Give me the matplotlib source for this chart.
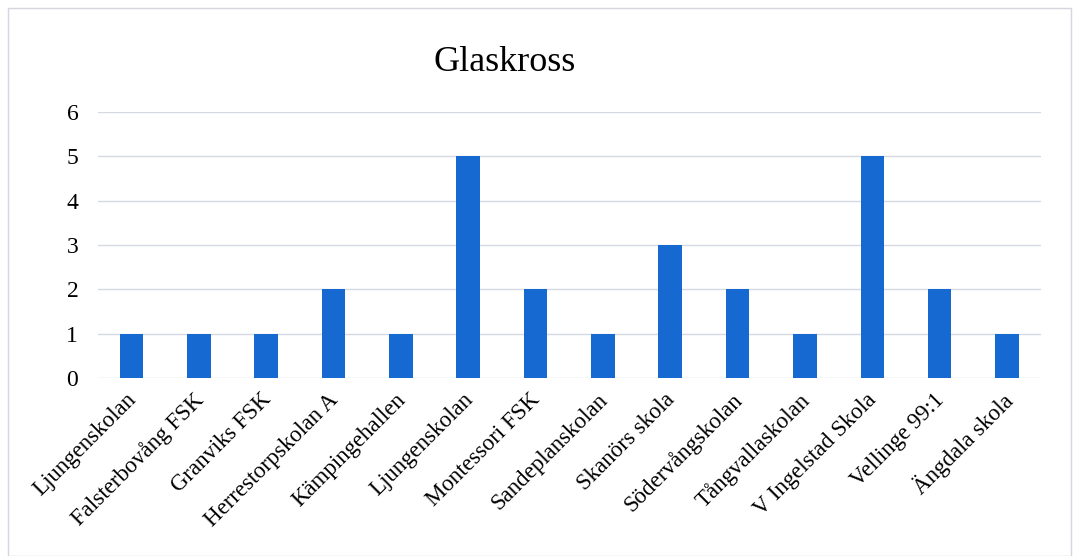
import matplotlib
matplotlib.use("Agg")
import matplotlib.pyplot as plt
import matplotlib.transforms as mtransforms
from matplotlib.patches import Rectangle

schools = ["Ljungenskolan", "Falsterbovång FSK", "Granviks FSK", "Herrestorpskolan A",
           "Kämpingehallen", "Ljungenskolan", "Montessori FSK", "Sandeplanskolan",
           "Skanörs skola", "Södervångskolan", "Tångvallaskolan", "V Ingelstad Skola",
           "Vellinge 99:1", "Ängdala skola"]
counts = [1, 1, 1, 2, 1, 5, 2, 1, 3, 2, 1, 5, 2, 1]
yticks = [0, 1, 2, 3, 4, 5, 6]

plt.rcParams['font.family'] = ['Liberation Serif', 'DejaVu Serif']

fig = plt.figure(figsize=(10.74, 5.56), dpi=100)
ax = fig.add_axes([0.091, 0.320, 0.878, 0.479])

x = range(len(schools))
ax.bar(x, counts, width=0.35, color='#1769d2', zorder=3)

ax.set_ylim(0, 6)
ax.set_xlim(-0.5, len(schools) - 0.5)
ax.set_yticks(yticks)
ax.set_yticklabels([str(v) for v in yticks], fontsize=17)
ax.set_xticks(list(x))
ax.set_xticklabels(schools, rotation=45, ha='right', rotation_mode='anchor', fontsize=16.5)
ax.tick_params(axis='y', length=0, pad=14)
ax.tick_params(axis='x', length=0, pad=8)
ax.grid(axis='y', color='#d6d8e4', linewidth=1, zorder=0)
for s in ax.spines.values():
    s.set_visible(False)

# nudge the slanted labels a little to the left, like the original
shift = mtransforms.ScaledTranslation(-6 / 100, 0, fig.dpi_scale_trans)
for lab in ax.get_xticklabels():
    lab.set_transform(lab.get_transform() + shift)

fig.text(0.47, 0.888, "Glaskross", ha='center', va='center', fontsize=26)

# chart area border
fig.add_artist(Rectangle((0.007, 0.0), 0.99, 0.985, transform=fig.transFigure,
                         fill=False, edgecolor='#d4d6e0', linewidth=1))

fig.savefig("out.png", dpi=100)
